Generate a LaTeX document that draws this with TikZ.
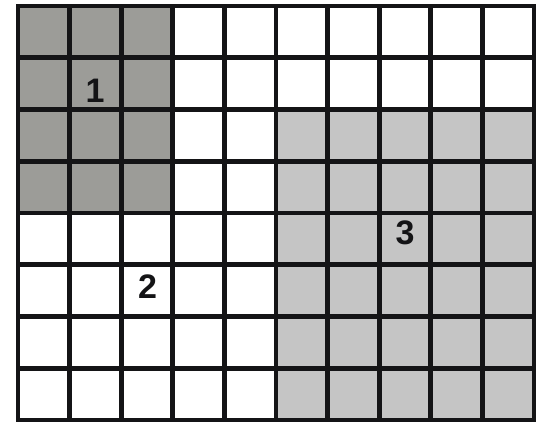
\documentclass[tikz,border=0pt]{standalone}
\usepackage{fontspec}
\setmainfont{Liberation Sans}
\definecolor{darkcell}{RGB}{156,156,152}
\definecolor{lightcell}{RGB}{197,197,197}
\definecolor{gridline}{RGB}{20,20,22}
\tikzset{
  gridrule/.style={line width=4.8pt, draw=gridline, line cap=rect},
  lbl/.style={font=\fontsize{34}{34}\selectfont\bfseries, text=gridline, inner sep=0pt}
}
\begin{document}
\begin{tikzpicture}[x=1pt,y=-1pt]
\useasboundingbox (0,0) rectangle (546,424);
\fill[white] (0,0) rectangle (546,424);
\fill[darkcell] (18,6) rectangle (172.8,213);
\fill[lightcell] (276,109.5) rectangle (534,420);
\foreach \i in {0,...,10} \draw[gridrule] ({18+51.6*\i},6) -- ({18+51.6*\i},420);
\foreach \j in {0,...,8} \draw[gridrule] (18,{6+51.75*\j}) -- (534,{6+51.75*\j});
\node[lbl] (l1) at (95,91) {1};
\node[lbl] (l2) at (147.5,287) {2};
\node[lbl] (l3) at (405,233) {3};
\end{tikzpicture}
\end{document}
